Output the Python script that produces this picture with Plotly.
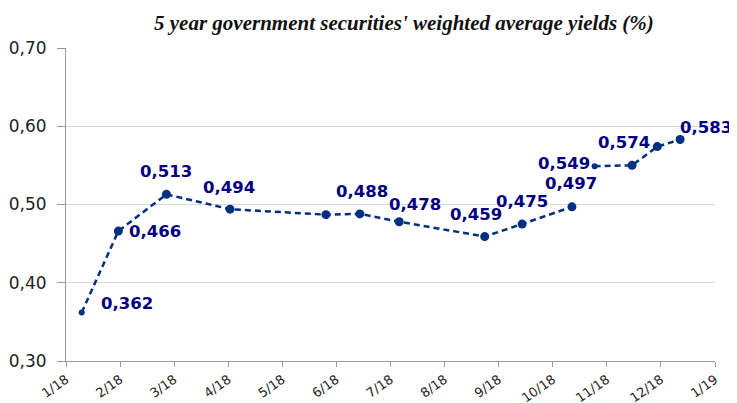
import plotly.graph_objects as go
from datetime import date
import calendar

# ---- data ----
dates = ["2018-01-10", "2018-01-31", "2018-02-25", "2018-04-02", "2018-05-26",
         "2018-06-14", "2018-07-06", "2018-08-24", "2018-09-14", "2018-10-12",
         "2018-10-25", "2018-11-15", "2018-11-29", "2018-12-12"]
yields = [0.362, 0.466, 0.513, 0.494, 0.487, 0.488, 0.478, 0.459, 0.475, 0.497,
          0.549, 0.550, 0.574, 0.583]
labeled = [True, True, True, True, False, True, True, True, True, True,
           True, False, True, True]
tick_labels = ["1/18", "2/18", "3/18", "4/18", "5/18", "6/18", "7/18", "8/18",
               "9/18", "10/18", "11/18", "12/18", "1/19"]
y_ticks = [0.30, 0.40, 0.50, 0.60, 0.70]
title = "5 year government securities' weighted average yields (%)"

# month-index position (months since 1/1/2018), ticks equally spaced per month
def month_pos(s):
    d = date.fromisoformat(s)
    ndays = calendar.monthrange(d.year, d.month)[1]
    return (d.year - 2018) * 12 + (d.month - 1) + (d.day - 1) / ndays

xs = [month_pos(s) for s in dates]

# line is broken before index 10; small markers at 0 and 10
break_before = 10
small_idx = {0, 10}

LINE_C = "#00307f"
LBL_C = "#000080"

fig = go.Figure()
lx = xs[:break_before] + [None] + xs[break_before:]
ly = yields[:break_before] + [None] + yields[break_before:]
fig.add_trace(go.Scatter(x=lx, y=ly, mode="lines", connectgaps=False,
                         line=dict(color=LINE_C, width=2.5, dash="6px,4px"),
                         hoverinfo="skip", showlegend=False))
big = [i for i in range(len(xs)) if i not in small_idx]
sm = sorted(small_idx)
fig.add_trace(go.Scatter(x=[xs[i] for i in big], y=[yields[i] for i in big],
                         mode="markers", marker=dict(color=LINE_C, size=9),
                         showlegend=False))
fig.add_trace(go.Scatter(x=[xs[i] for i in sm], y=[yields[i] for i in sm],
                         mode="markers", marker=dict(color=LINE_C, size=6),
                         showlegend=False))

# label placement: (xanchor, xshift, yshift)
place = {
    0: ("left", 17, 9),
    1: ("left", 9, 0),
    2: ("center", 0, 23),
    3: ("center", -1, 22),
    5: ("center", 2, 22),
    6: ("center", 16, 17),
    7: ("center", -9, 22),
    8: ("center", 0, 23),
    9: ("center", -1, 23),
    10: ("right", -3, 3),
    12: ("right", -5, 4),
    13: ("left", -2, 12),
}
for i, (x, y) in enumerate(zip(xs, yields)):
    if not labeled[i]:
        continue
    xa, dx, dy = place[i]
    fig.add_annotation(x=x, y=y, text=f"{y:.3f}".replace(".", ","),
                       showarrow=False, xanchor=xa, yanchor="middle",
                       xshift=dx, yshift=dy,
                       font=dict(family="DejaVu Sans", size=16.5, color=LBL_C,
                                 weight="bold"))

fig.add_annotation(x=0.521, xref="paper", y=1, yref="paper", yanchor="middle",
                   yshift=25, text=f"<b><i>{title}</i></b>", showarrow=False,
                   font=dict(family="Liberation Serif", size=21, color="#111"))

fig.update_layout(
    width=737, height=403,
    margin=dict(l=58, r=30, t=40, b=50, autoexpand=False),
    paper_bgcolor="white", plot_bgcolor="white",
    xaxis=dict(range=[0, 12], tickvals=list(range(13)), ticktext=tick_labels,
               tickangle=-35, showgrid=False, zeroline=False, automargin=False,
               showline=True, linecolor="#999", linewidth=1,
               ticks="outside", ticklen=5, tickcolor="#999",
               ticklabelstandoff=0,
               tickfont=dict(family="DejaVu Sans", size=13, color="#222")),
    yaxis=dict(range=[0.30, 0.70], tickvals=y_ticks, automargin=False,
               ticktext=[f"{v:.2f}".replace(".", ",") for v in y_ticks],
               showgrid=True, gridcolor="#d9d9d9", gridwidth=1, zeroline=False,
               showline=True, linecolor="#999", linewidth=1,
               ticks="outside", ticklen=8, tickcolor="#999",
               ticklabelstandoff=7,
               tickfont=dict(family="DejaVu Sans", size=17, color="#222")),
)
fig.write_html("out.html")
